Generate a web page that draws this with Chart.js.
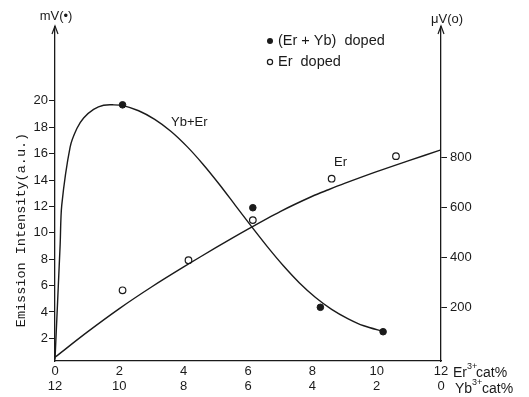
<!DOCTYPE html>
<html>
<head>
<meta charset="utf-8">
<script src="https://cdn.jsdelivr.net/npm/chart.js@4/dist/chart.umd.min.js"></script>
<style>
  html, body { margin: 0; padding: 0; background: #fff; }
  #wrap { width: 529px; height: 397px; }
</style>
</head>
<body>
<div id="wrap"><canvas id="chart" width="529" height="397"></canvas></div>
<script>
// measured points, (Er + Yb) doped -> left axis (mV)
const erYbX = [2.1, 6.15, 8.25, 10.2];
const erYbY = [19.7, 11.9, 4.35, 2.5];
// measured points, Er doped -> right axis (uV)
const erX = [2.1, 4.15, 6.15, 8.6, 10.6];
const erY = [270, 390, 550, 715, 805];
// hand drawn fit curves
const fitYbErX = [0, 0.16, 0.21, 0.47, 0.68, 0.89, 1.2, 1.51, 1.83, 2.12, 2.6, 3.1, 3.6, 4.1, 4.6, 5.1, 5.6, 6.1, 6.6, 7.1, 7.6, 8.1, 8.6, 9.1, 9.6, 10.23];
const fitYbErY = [0.4, 9.1, 12.1, 16.5, 17.9, 18.7, 19.35, 19.67, 19.7, 19.64, 19.25, 18.6, 17.7, 16.55, 15.2, 13.7, 12.1, 10.5, 8.95, 7.5, 6.2, 5.1, 4.2, 3.5, 2.95, 2.5];
const fitErX = [0, 1, 2, 3, 4, 5, 6, 7, 8, 8.5, 9, 10, 11, 12];
const fitErY = [3, 103, 197, 283, 363, 440, 514, 584, 645, 671, 696, 743, 787, 830];
// tick labels
const erTicks = [0, 2, 4, 6, 8, 10, 12];
const leftTicks = [2, 4, 6, 8, 10, 12, 14, 16, 18, 20];
const rightTicks = [200, 400, 600, 800];

const ink = '#1a1a1a';
const sans = '"Liberation Sans", Arial, sans-serif';

function pts(xs, ys) {
    return xs.map(function(x, i) { return {x: x, y: ys[i]}; });
}

const decor = {
    id: 'decor',
    afterDraw: function(chart) {
        const ctx = chart.ctx;
        const a = chart.chartArea;
        ctx.save();
        ctx.strokeStyle = ink;
        ctx.fillStyle = ink;
        ctx.lineWidth = 1.2;
        // arrow heads on both value axes
        [a.left, a.right].forEach(function(x) {
            ctx.beginPath();
            ctx.moveTo(x - 3, a.top + 7);
            ctx.lineTo(x, a.top - 1);
            ctx.lineTo(x + 3, a.top + 7);
            ctx.stroke();
        });
        ctx.textBaseline = 'middle';
        ctx.textAlign = 'center';
        ctx.font = '13px ' + sans;
        ctx.fillText('mV(•)', 56, 16);
        ctx.fillText('μV(o)', 447, 19);

        // legend
        ctx.textAlign = 'left';
        ctx.font = '14.5px ' + sans;
        ctx.beginPath();
        ctx.arc(270, 41, 3, 0, Math.PI * 2);
        ctx.fill();
        ctx.fillText('(Er + Yb)  doped', 278, 41);
        ctx.beginPath();
        ctx.arc(270, 62, 2.6, 0, Math.PI * 2);
        ctx.stroke();
        ctx.fillText('Er  doped', 278, 62);

        // curve labels
        ctx.font = '13px ' + sans;
        ctx.fillText('Yb+Er', 171, 122);
        ctx.fillText('Er', 334, 162);

        // x axis units
        ctx.font = '14px ' + sans;
        ctx.fillText('Er', 453, 373);
        ctx.fillText('cat%', 476, 373);
        ctx.fillText('Yb', 455, 389);
        ctx.fillText('cat%', 482, 389);
        ctx.font = '9px ' + sans;
        ctx.fillText('3+', 467, 367);
        ctx.fillText('3+', 472, 383);

        // y title
        ctx.translate(21, 230);
        ctx.rotate(-Math.PI / 2);
        ctx.textAlign = 'center';
        ctx.font = '13.5px "Liberation Mono", "DejaVu Sans Mono", monospace';
        ctx.fillText('Emission Intensity(a.u.)', 0, 0);
        ctx.restore();
    }
};

new Chart(document.getElementById('chart'), {
    type: 'scatter',
    data: {
        datasets: [
            {
                label: 'Yb+Er fit',
                data: pts(fitYbErX, fitYbErY),
                showLine: true,
                borderColor: ink,
                borderWidth: 1.4,
                pointRadius: 0,
                tension: 0.3,
                yAxisID: 'yL',
            },
            {
                label: 'Er fit',
                data: pts(fitErX, fitErY),
                showLine: true,
                borderColor: ink,
                borderWidth: 1.4,
                pointRadius: 0,
                tension: 0.3,
                yAxisID: 'yR',
            },
            {
                label: '(Er + Yb) doped',
                data: pts(erYbX, erYbY),
                backgroundColor: ink,
                borderColor: ink,
                pointRadius: 3.3,
                yAxisID: 'yL',
            },
            {
                label: 'Er doped',
                data: pts(erX, erY),
                backgroundColor: '#fff',
                borderColor: ink,
                borderWidth: 1.2,
                pointRadius: 3.3,
                yAxisID: 'yR',
            }
        ]
    },
    options: {
        responsive: false,
        animation: false,
        layout: { padding: { top: 27, left: 0, right: 0, bottom: 0 } },
        plugins: {
            legend: { display: false },
            tooltip: { enabled: false },
        },
        scales: {
            x: {
                type: 'linear',
                position: 'bottom',
                min: 0,
                max: 12,
                afterBuildTicks: function(s) { s.ticks = erTicks.map(function(v) { return {value: v}; }); },
                afterFit: function(s) { s.height = 36; },
                ticks: {
                    autoSkip: false,
                    maxRotation: 0,
                    padding: 3,
                    color: ink,
                    font: { family: sans, size: 13, lineHeight: 1.15 },
                    callback: function(v) { return [String(v), String(12 - v)]; },
                },
                grid: { display: false, drawTicks: false },
                border: { display: true, color: ink, width: 1.3 },
            },
            yL: {
                type: 'linear',
                position: 'left',
                min: 0.28,
                max: 25.6,
                afterBuildTicks: function(s) { s.ticks = leftTicks.map(function(v) { return {value: v}; }); },
                afterFit: function(s) { s.width = 55; },
                ticks: { color: ink, padding: 1, font: { family: sans, size: 13 } },
                grid: { drawOnChartArea: false, tickLength: 6, color: ink },
                border: { display: true, color: ink, width: 1.3 },
            },
            yR: {
                type: 'linear',
                position: 'right',
                min: -12,
                max: 1320,
                afterBuildTicks: function(s) { s.ticks = rightTicks.map(function(v) { return {value: v}; }); },
                afterFit: function(s) { s.width = 88; },
                ticks: { color: ink, padding: 3, font: { family: sans, size: 13 } },
                grid: { drawOnChartArea: false, tickLength: 6, color: ink },
                border: { display: true, color: ink, width: 1.3 },
            }
        }
    },
    plugins: [decor]
});
</script>
</body>
</html>
